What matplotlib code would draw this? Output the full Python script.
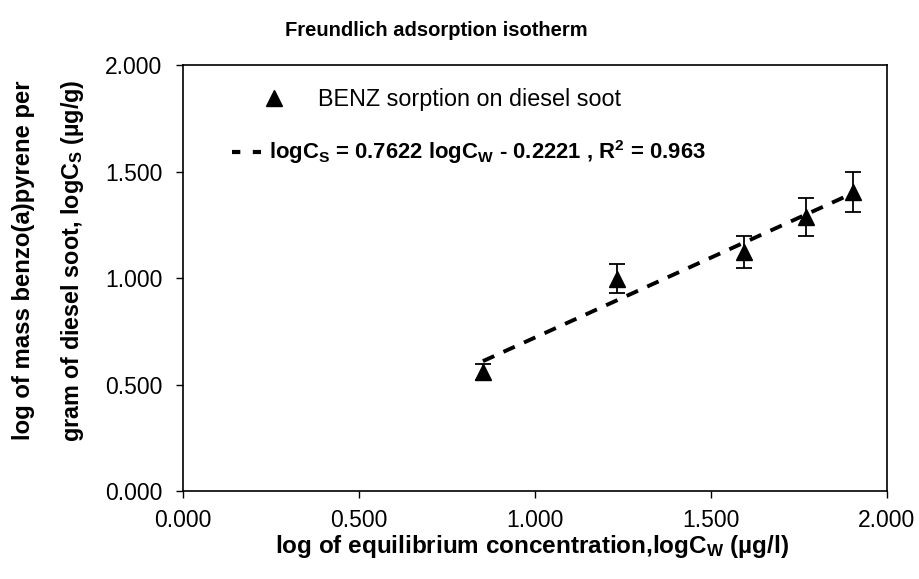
import numpy as np
import matplotlib
matplotlib.use("Agg")
import matplotlib.pyplot as plt
from matplotlib.lines import Line2D

plt.rcParams["font.family"] = ["Liberation Sans", "DejaVu Sans"]
plt.rcParams["mathtext.default"] = "regular"

# Freundlich isotherm data (log-transformed)
log_cw = [0.852, 1.232, 1.595, 1.771, 1.904]
log_cs = [0.559, 0.997, 1.122, 1.286, 1.405]
log_cs_err = [0.037, 0.069, 0.075, 0.089, 0.094]

# reported fit parameters
fit_slope = 0.7622
fit_intercept = -0.2221
fit_r2 = 0.963

x_ticks = [0.0, 0.5, 1.0, 1.5, 2.0]
y_ticks = [0.0, 0.5, 1.0, 1.5, 2.0]

W, H = 919, 579
fig = plt.figure(figsize=(W / 100, H / 100), dpi=100)
ax = fig.add_axes([183 / W, 1 - 491 / H, (887 - 183) / W, (491 - 65) / H])

ax.errorbar(log_cw, log_cs, yerr=log_cs_err, fmt="^", color="black",
            ms=12, ecolor="black", elinewidth=1.3, capsize=6, capthick=1.3,
            zorder=3)

# least-squares trendline through the data
coef = np.polyfit(log_cw, log_cs, 1)
xf = np.array([min(log_cw), max(log_cw)])
ax.plot(xf, np.polyval(coef, xf), color="black", lw=2.8,
        dashes=(3.2, 2.6), zorder=2)

ax.set_xlim(0, 2)
ax.set_ylim(0, 2)
ax.set_xticks(x_ticks)
ax.set_yticks(y_ticks)
ax.set_xticklabels([f"{v:.3f}" for v in x_ticks])
ax.set_yticklabels([f"{v:.3f}" for v in y_ticks])
ax.tick_params(direction="out", length=5, width=1, labelsize=16.5)
ax.tick_params(axis="x", pad=8)
ax.tick_params(axis="y", pad=10)
for s in ax.spines.values():
    s.set_linewidth(1.2)

# legend: data marker entry
leg1 = ax.legend([Line2D([], [], marker="^", ls="none", color="black", ms=12)],
                 ["BENZ sorption on diesel soot"],
                 loc="center left", bbox_to_anchor=(0.112, 0.918),
                 frameon=False, fontsize=16.8, handlelength=1.0,
                 handletextpad=1.4, borderaxespad=0, borderpad=0)
ax.add_artist(leg1)

# legend: trendline entry
eq = (f"logC$_S$ = {fit_slope:.4f} logC$_W$ - {abs(fit_intercept):.4f} , "
      f"R$^2$ = {fit_r2:.3f}")
leg2 = ax.legend([Line2D([], [], color="black", lw=3, dashes=(2.0, 3.0))],
                 [eq], loc="center left", bbox_to_anchor=(0.069, 0.795),
                 frameon=False, handlelength=1.35, handletextpad=0.35,
                 borderaxespad=0, borderpad=0,
                 prop={"size": 15.9, "weight": "bold"})

fig.text(436 / W, 1 - 31 / H, "Freundlich adsorption isotherm",
         ha="center", va="center", fontsize=14.5, fontweight="bold")
fig.text(532 / W, 1 - 546 / H,
         "log of equilibrium concentration,logC$_W$ (µg/l)",
         ha="center", va="center", fontsize=17.5, fontweight="bold")
fig.text(24 / W, 1 - 260 / H, "log of mass benzo(a)pyrene per",
         ha="center", va="center", rotation=90, fontsize=17.2,
         fontweight="bold")
fig.text(73 / W, 1 - 261 / H, "gram of diesel soot, logC$_S$ (µg/g)",
         ha="center", va="center", rotation=90, fontsize=16.8,
         fontweight="bold")

fig.savefig("out.png", dpi=100)
